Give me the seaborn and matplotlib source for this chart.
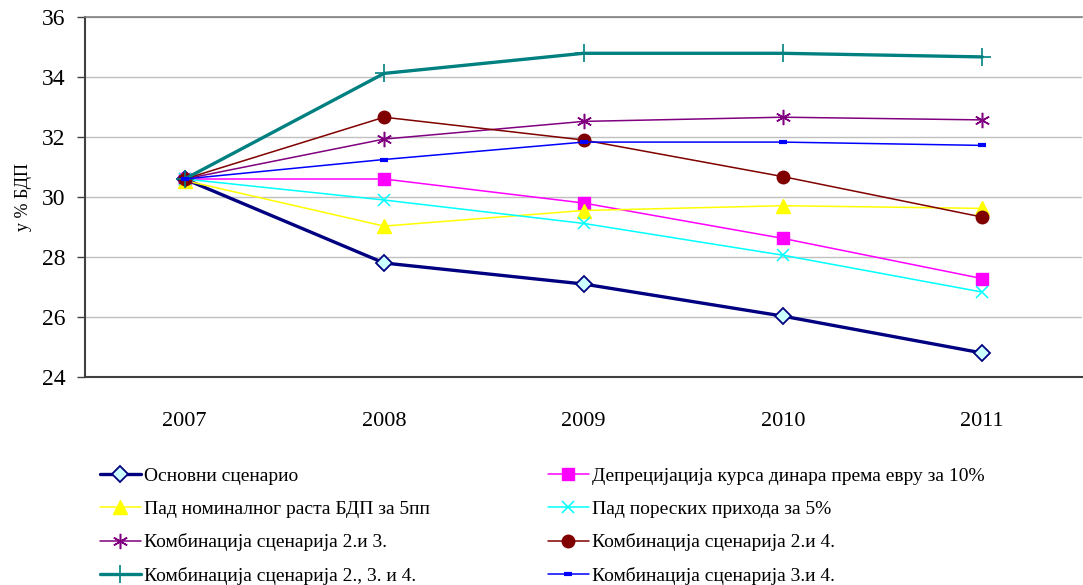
import numpy as np
import pandas as pd
import seaborn as sns
import matplotlib.pyplot as plt
from matplotlib.ticker import FixedLocator

''' DATA
'''
years = ['2007', '2008', '2009', '2010', '2011']
osnovni = [30.6, 27.8, 27.1, 26.03, 24.8]
deprecijacija = [30.6, 30.6, 29.8, 28.62, 27.28]
pad_bdp = [30.55, 29.03, 29.55, 29.71, 29.62]
pad_prihoda = [30.6, 29.9, 29.12, 28.06, 26.83]
komb_23 = [30.6, 31.93, 32.52, 32.66, 32.57]
komb_24 = [30.6, 32.66, 31.9, 30.68, 29.33]
komb_234 = [30.6, 34.12, 34.79, 34.79, 34.67]
komb_34 = [30.6, 31.25, 31.83, 31.83, 31.72]

labels = ['Основни сценарио',
          'Депрецијација курса динара према евру за 10%',
          'Пад номиналног раста БДП за 5пп',
          'Пад пореских прихода за 5%',
          'Комбинација сценарија 2.и 3.',
          'Комбинација сценарија 2.и 4.',
          'Комбинација сценарија 2., 3. и 4.',
          'Комбинација сценарија 3.и 4.']
series = [osnovni, deprecijacija, pad_bdp, pad_prihoda, komb_23, komb_24, komb_234, komb_34]

''' STYLE PER SERIES
'''
styles = [
    dict(color='#000080', lw=2.4, marker='D', ms=8, mfc='#ccffff', mec='#000080', mew=1.3),
    dict(color='#ff00ff', lw=1.1, marker='s', ms=8, mfc='#ff00ff', mec='#ff00ff', mew=1),
    dict(color='#ffff00', lw=1.1, marker='^', ms=10, mfc='#ffff00', mec='#ffff00', mew=1),
    dict(color='#00ffff', lw=1.1, marker='x', ms=9, mfc='#00ffff', mec='#00ffff', mew=1.1),
    dict(color='#800080', lw=1.1, marker=(6, 2, 0), ms=11, mfc='#800080', mec='#800080', mew=1.1),
    dict(color='#800000', lw=1.1, marker='o', ms=9, mfc='#800000', mec='#800000', mew=1),
    dict(color='#008080', lw=2.4, marker='+', ms=13, mfc='#008080', mec='#008080', mew=1.2),
    dict(color='#0000ff', lw=1.1, marker='_', ms=6, mfc='#0000ff', mec='#0000ff', mew=3),
]

sns.set_style('white')
plt.rcParams['font.family'] = ['Liberation Serif', 'DejaVu Serif']
plt.rcParams['text.color'] = 'black'
plt.rcParams['axes.labelcolor'] = 'black'
plt.rcParams['xtick.color'] = 'black'
plt.rcParams['ytick.color'] = 'black'

fig = plt.figure(figsize=(10.83, 5.85), dpi=100)
ax = fig.add_axes([85/1083, 1-377/585, 997/1083, 360/585])

x = np.arange(len(years))
for vals, lab, st in zip(series, labels, styles):
    df = pd.DataFrame({'x': x, 'y': vals})
    sns.lineplot(data=df, x='x', y='y', ax=ax, color=st['color'], linewidth=st['lw'],
                 marker=st['marker'], markersize=st['ms'], markerfacecolor=st['mfc'],
                 markeredgecolor=st['mec'], markeredgewidth=st['mew'], label=lab)

h, l = ax.get_legend_handles_labels()
ax.get_legend().remove()

ax.set_xlim(-0.5, 4.5)
ax.set_ylim(24, 36)
ax.set_yticks(np.arange(24, 37, 2))
ax.set_xticks(x)
ax.set_xticklabels(years)
ax.xaxis.set_minor_locator(FixedLocator(np.arange(-0.5, 4.6, 1)))
ax.tick_params(axis='x', which='major', length=0, labelsize=16, pad=25)
ax.tick_params(axis='x', which='minor', length=6, width=1, color='#404040', direction='out')
ax.tick_params(axis='y', which='major', length=6, width=1, color='#404040', direction='out',
               labelsize=17, left=True, pad=8)
ax.yaxis.grid(True, color='#c0c0c0', lw=1)
ax.set_axisbelow(True)
ax.set_xlabel('')
ax.set_ylabel('у % БДП', fontsize=13, labelpad=7)

for s in ['left', 'bottom']:
    ax.spines[s].set_color('#404040')
    ax.spines[s].set_linewidth(1.5)
ax.spines['top'].set_color('#808080')
ax.spines['top'].set_linewidth(1.2)
ax.spines['right'].set_visible(False)

leg_kw = dict(loc='upper left', frameon=False, fontsize=14, borderpad=0, borderaxespad=0,
              handlelength=2.1, handletextpad=0.15, labelspacing=0.8)
fig.legend([h[i] for i in (0, 2, 4, 6)], [l[i] for i in (0, 2, 4, 6)],
           bbox_to_anchor=(100/1083, 1-467/585), **leg_kw)
fig.legend([h[i] for i in (1, 3, 5, 7)], [l[i] for i in (1, 3, 5, 7)],
           bbox_to_anchor=(548/1083, 1-467/585), **leg_kw)

plt.savefig('out.png', dpi=100)
